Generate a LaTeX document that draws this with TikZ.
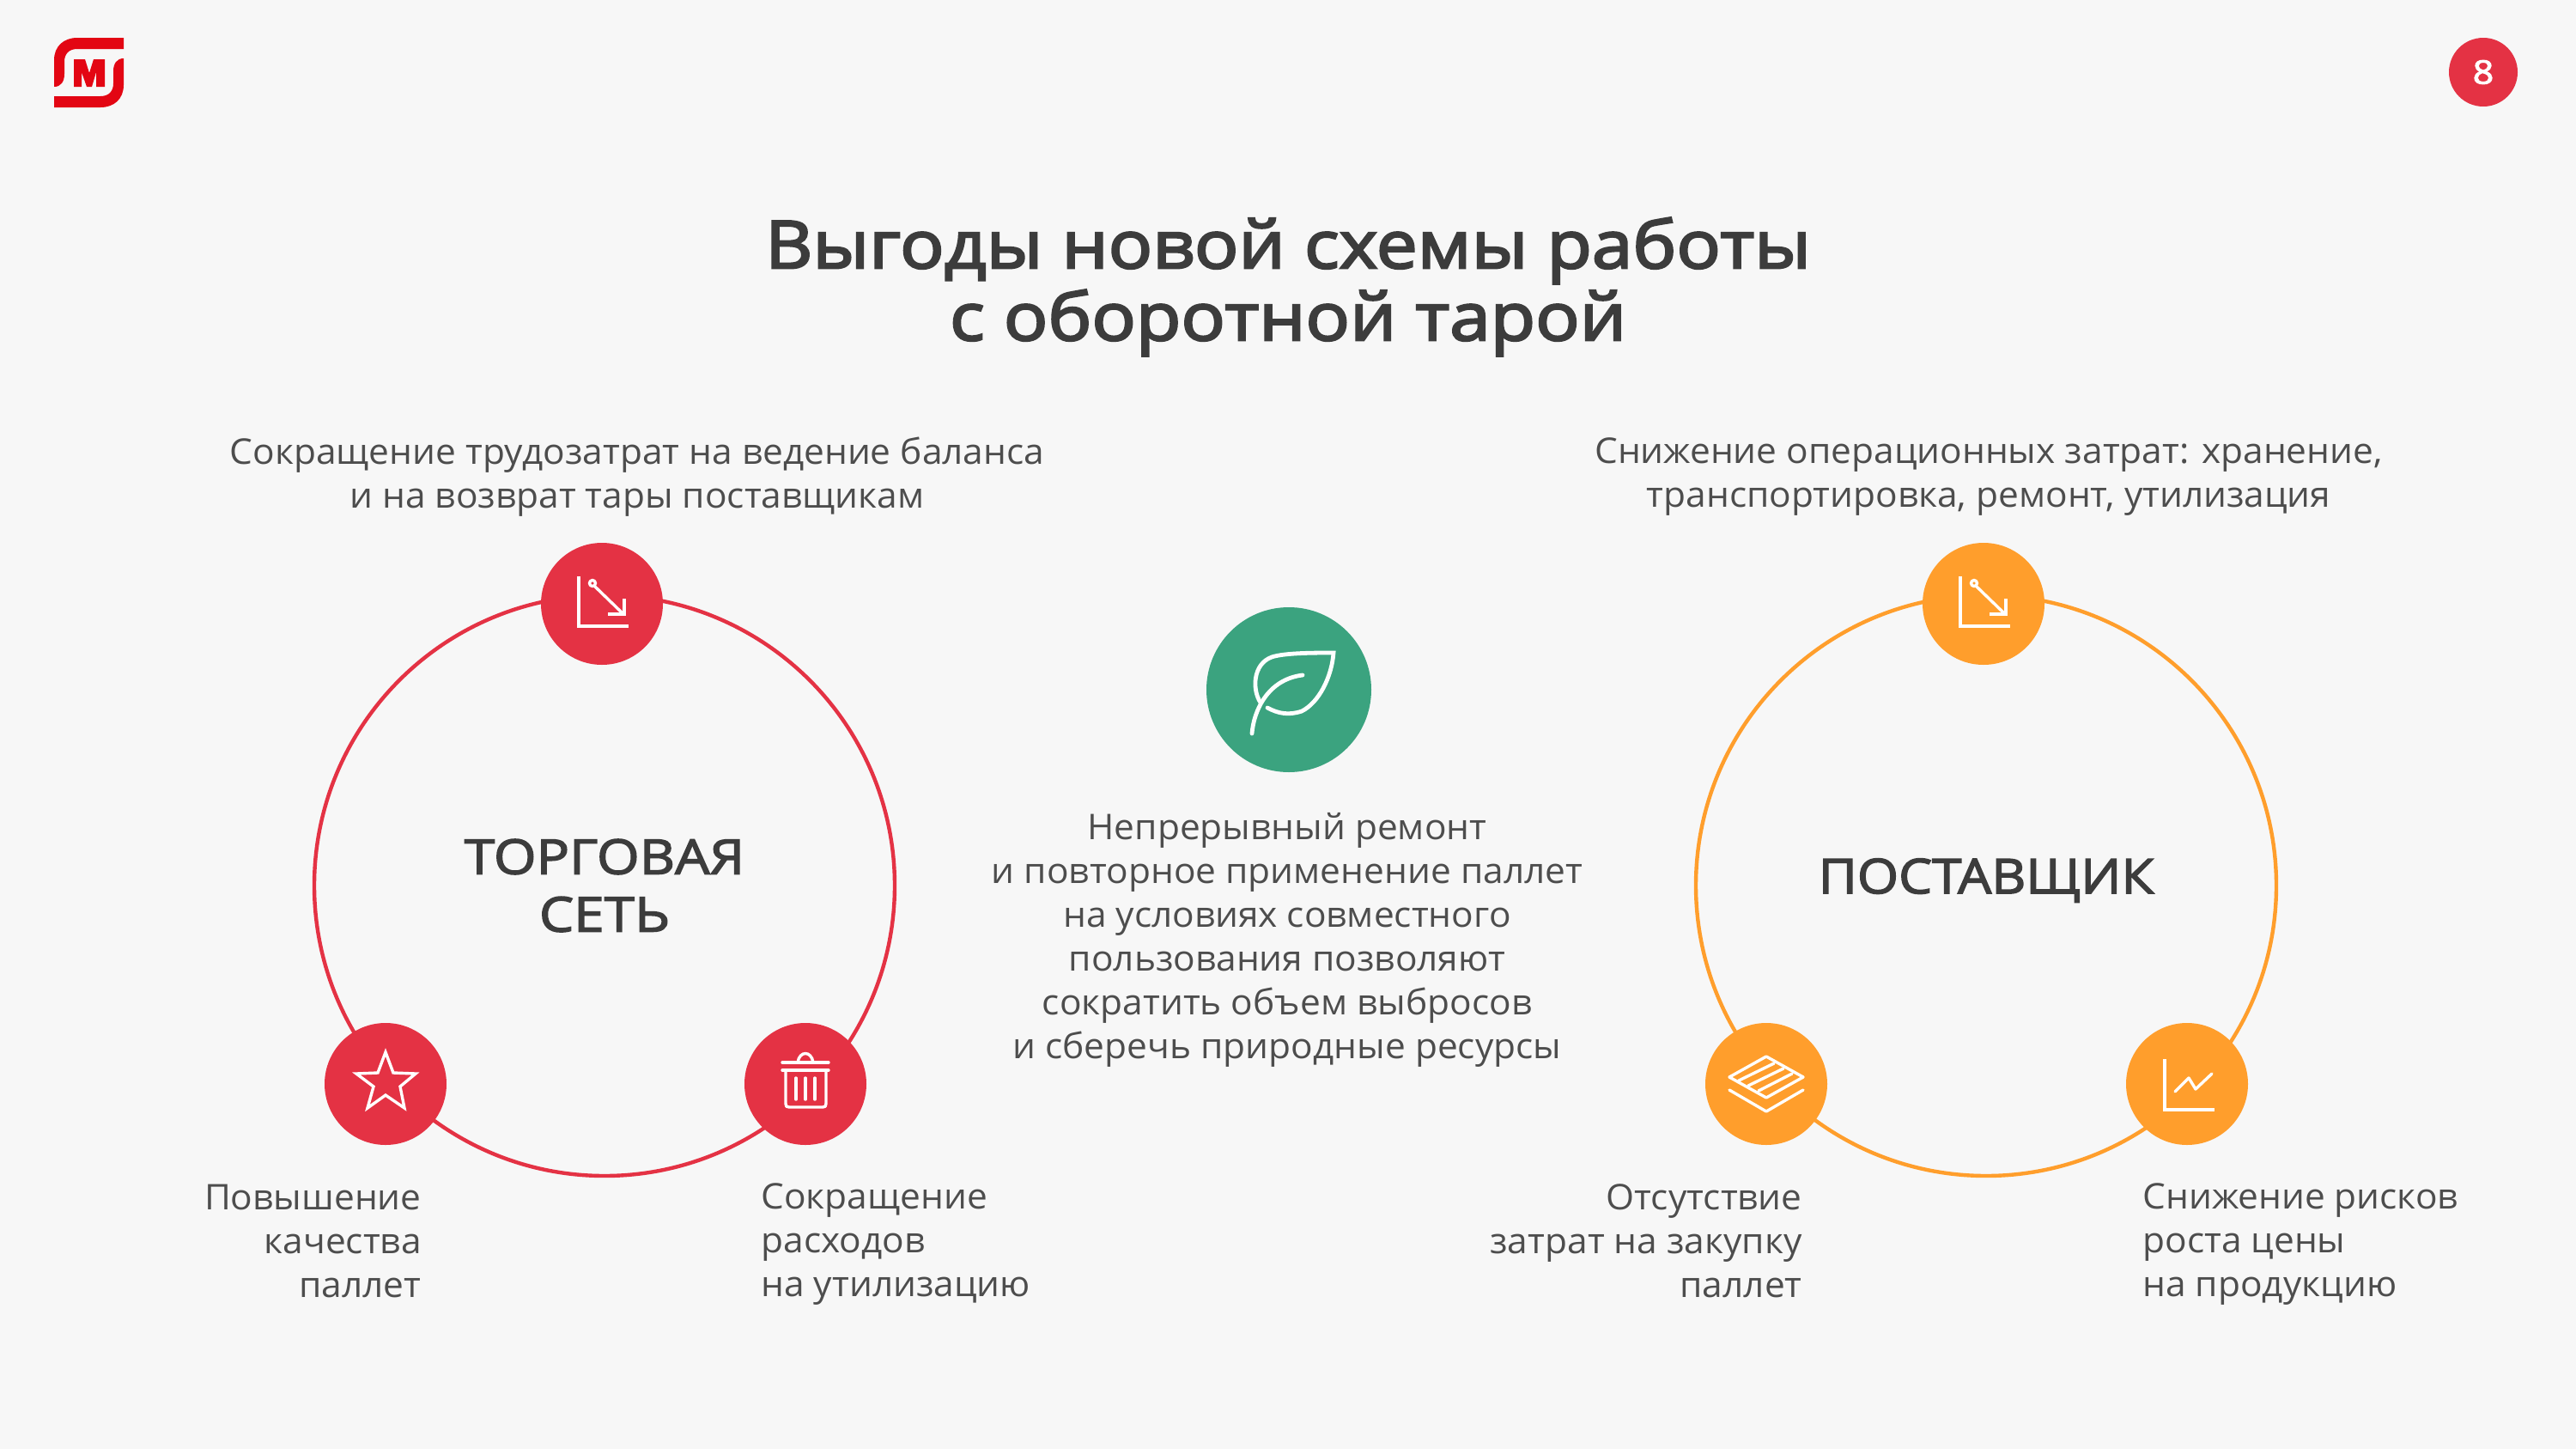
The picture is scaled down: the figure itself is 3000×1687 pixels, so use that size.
\documentclass[tikz,border=0pt]{standalone}
\usepackage{fontspec}
\setmainfont[FakeStretch=1.03]{Open Sans}
\newfontfamily\heavyf[FakeStretch=1.11]{Open Sans}
\newfontfamily\headf[FakeStretch=1.14]{Open Sans}
\newfontfamily\headg[FakeStretch=1.105]{Open Sans}
\newcommand{\strokeon}[1]{\special{pdf:code 2 Tr #1 w}}
\newcommand{\strokeoff}{\special{pdf:code 0 Tr}}
\definecolor{bgc}{HTML}{F7F7F7}
\definecolor{redc}{HTML}{E43244}
\definecolor{orc}{HTML}{FF9E2C}
\definecolor{grc}{HTML}{3BA37F}
\definecolor{txt}{HTML}{4D4D4D}
\definecolor{ttl}{HTML}{3C3C3C}
\definecolor{logoc}{HTML}{E30613}
\tikzset{
 x=0.5pt,y=-0.5pt,
 body/.style={text=txt,font=\fontsize{20.6}{25.5}\selectfont,inner sep=0pt},
 ring/.style={circle,draw=#1,line width=2.2pt,minimum size=338pt,inner sep=0pt},
 dot/.style={circle,fill=#1,minimum size=71pt,inner sep=0pt},
 ic/.style={draw=white,line width=1.7pt,line cap=round,line join=round},
 icb/.style={draw=white,line width=1.7pt,line cap=butt,line join=miter},
}
\newcommand{\icdown}[1]{\begin{scope}[shift={(#1)}]
 \draw[icb] (-27,-32)--(-27,26)--(31,26);
 \draw[ic] (-9,-21)--(24,11);
 \draw[icb,line width=2.2pt] (26,-6)--(26,12)--(7,12);
 \draw[ic] (-11,-24) circle (3.5);
\end{scope}}
\begin{document}
\begin{tikzpicture}
\path[fill=bgc] (0,0) rectangle (3000,1687);
\useasboundingbox (0,0) rectangle (3000,1687);
% logo
\path[fill=logoc] (144,44) -- (144,57) -- (90,57) .. controls (80,57) and (75,63) .. (75,72) -- (75,86) .. controls (75,95) and (71,101) .. (63,101) -- (63,70) .. controls (63,54) and (74,44) .. (90,44) -- cycle;
\path[fill=logoc] (63,125) -- (63,112) -- (117,112) .. controls (127,112) and (132,106) .. (132,97) -- (132,83) .. controls (132,74) and (136,68) .. (144,68) -- (144,99) .. controls (144,115) and (133,125) .. (117,125) -- cycle;
\path[fill=logoc] (86,69) -- (99,69) -- (104,85) -- (109,69) -- (122,69) -- (122,101) -- (112,101) -- (112,84) -- (107,101) -- (101,101) -- (95,84) -- (95,101) -- (86,101) -- cycle;
% page number
\node[circle,fill=redc,minimum size=40pt,inner sep=0pt,text=white,font=\headf\fontsize{19}{20}\selectfont] (pg) at (2892,84) {\strokeon{0.5}8\strokeoff};
% title
\node[align=center,text=ttl,font=\heavyf\fontsize{38.5}{42}\selectfont,inner sep=0pt] (title) at (1500,334) {\strokeon{1.2}Выгоды новой схемы работы\\с оборотной тарой\strokeoff};
% left ring
\node[ring=redc] (lr) at (704,1031) {};
\node[align=center,text=ttl,font=\headf\fontsize{28}{33.5}\selectfont,inner sep=0pt] (lt) at (704,1031) {\strokeon{0.75}ТОРГОВАЯ\\СЕТЬ\strokeoff};
\node[dot=redc] (l1) at (701,703) {};
\node[dot=redc] (l2) at (449,1262) {};
\node[dot=redc] (l3) at (938,1262) {};
% right ring
\node[ring=orc] (rr) at (2313,1031) {};
\node[text=ttl,font=\headg\fontsize{28}{33.5}\selectfont,inner sep=0pt] (rt) at (2313,1025) {\strokeon{0.75}ПОСТАВЩИК\strokeoff};
\node[dot=orc] (r1) at (2310,703) {};
\node[dot=orc] (r2) at (2057,1262) {};
\node[dot=orc] (r3) at (2547,1262) {};
% centre
\node[circle,fill=grc,minimum size=96pt,inner sep=0pt] (c) at (1501,803) {};
% icons
\icdown{l1} \icdown{r1}
% star
\begin{scope}[shift={(l2)}]
\draw[icb] (0,-37)--(9,-13)--(35,-12)--(17,3)--(22,28)--(0,13)--(-21,28)--(-14,3)--(-34,-12)--(-9,-13)--cycle;
\end{scope}
% trash
\begin{scope}[shift={(l3)}]
\draw[ic] (-27,-25)--(27,-25);\draw[ic] (-27,-16)--(27,-16);
\draw[ic] (-9,-25) .. controls (-7,-39) and (7,-39) .. (9,-25);
\draw[ic] (-23,-16)--(-23,23) .. controls (-23,26) and (-22,27) .. (-19,27)--(20,27) .. controls (23,27) and (24,26) .. (24,23)--(24,-16);
\draw[ic] (-11,-7)--(-11,18);\draw[ic] (0,-7)--(0,18);\draw[ic] (11,-7)--(11,18);
\end{scope}
% layers
\begin{scope}[shift={(r2)}]
\draw[ic] (0,-32)--(43,-8)--(0,16)--(-43,-8)--cycle;
\draw[ic] (-43,7)--(0,32)--(43,7);
\draw[ic] (9,-24)--(-32,-4);
\draw[ic] (20,-18)--(-21,2);
\draw[ic] (30,-12)--(-9,8);
\end{scope}
% chart
\begin{scope}[shift={(r3)}]
\draw[icb] (-26,-29)--(-26,30)--(32,30);
\draw[ic] (-14,9)--(2,-7)--(10,6)--(29,-12);
\end{scope}
% leaf
\begin{scope}[shift={(c)}]
\draw[ic,line width=2.4pt] (-43,51) .. controls (-41,25) and (-25,-12) .. (16,-17);
\draw[ic,line width=2.4pt,line join=miter] (-33,15) .. controls (-43,0) and (-42,-30) .. (-20,-38) .. controls (-5,-43) and (30,-43) .. (52,-43) .. controls (50,-15) and (35,15) .. (15,25) .. controls (0,30) and (-12,28) .. (-25,21);
\end{scope}
% texts
\node[body,align=center] (a) at (742,555) {Сокращение трудозатрат на ведение баланса\\и на возврат тары поставщикам};
\node[body,align=center] (b) at (2316,555) {Снижение операционных затрат: хранение,\\транспортировка, ремонт, утилизация};
\node[body,align=center] (m) at (1499,1094) {Непрерывный ремонт\\и повторное применение паллет\\на условиях совместного\\пользования позволяют\\сократить объем выбросов\\и сберечь природные ресурсы};
\node[body,align=right,anchor=east] (d) at (491,1445) {Повышение\\качества\\паллет};
\node[body,align=left,anchor=west] (e) at (886,1449) {Сокращение\\расходов\\на утилизацию};
\node[body,align=right,anchor=east] (f) at (2099,1445) {Отсутствие\\затрат на закупку\\паллет};
\node[body,align=left,anchor=west] (g) at (2495,1449) {Снижение рисков\\роста цены\\на продукцию};
\end{tikzpicture}
\end{document}
